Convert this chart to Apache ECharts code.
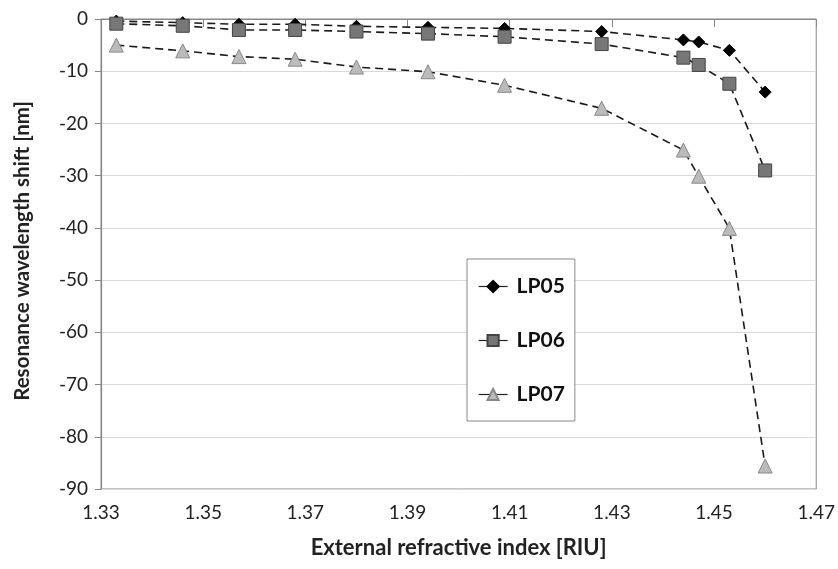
<!DOCTYPE html>
<html>
<head>
<meta charset="utf-8">
<script src="https://cdn.jsdelivr.net/npm/echarts@6/dist/echarts.min.js"></script>
<style>
  html, body { margin: 0; padding: 0; background: #fff; }
  #chart { width: 838px; height: 569px; }
</style>
</head>
<body>
<div id="chart"></div>
<script>
// refractive index of the outer medium
var riu = [1.333, 1.346, 1.357, 1.368, 1.380, 1.394, 1.409, 1.428, 1.444, 1.447, 1.453, 1.460];
// resonance shifts [nm]
var lp05 = [-0.4, -0.7, -1.0, -1.0, -1.4, -1.6, -1.8, -2.4, -4.0, -4.4, -6.0, -14.0];
var lp06 = [-0.9, -1.3, -2.1, -2.1, -2.4, -2.8, -3.4, -4.8, -7.4, -8.8, -12.4, -29.0];
var lp07 = [-5.0, -6.1, -7.2, -7.7, -9.2, -10.1, -12.7, -17.1, -25.1, -30.1, -40.1, -85.6];
var xTicks = [1.33, 1.35, 1.37, 1.39, 1.41, 1.43, 1.45, 1.47];

var font = 'Lato, "Noto Sans", sans-serif';

function pairs(ys) {
  return riu.map(function (x, i) { return [x, ys[i]]; });
}

function line(name, ys, symbol, size, fill, border) {
  return {
    name: name,
    type: 'line',
    data: pairs(ys),
    symbol: symbol,
    symbolSize: size,
    showSymbol: true,
    z: 3,
    lineStyle: { color: '#1a1a1a', width: 1.6, type: [8, 5] },
    itemStyle: { color: fill, borderColor: border, borderWidth: 1, opacity: 1 },
    emphasis: { disabled: true }
  };
}

var chart = echarts.init(document.getElementById('chart'));
chart.setOption({
  animation: false,
  backgroundColor: '#fff',
  textStyle: { fontFamily: font },
  grid: {
    left: 101, right: 20, top: 19, bottom: 80,
    show: true, borderColor: '#888', borderWidth: 1
  },
  legend: {
    left: 467, top: 259,
    orient: 'vertical',
    backgroundColor: '#fff',
    borderColor: '#888', borderWidth: 1,
    padding: [17, 10, 16, 11],
    itemGap: 33,
    itemWidth: 29, itemHeight: 14,
    lineStyle: { type: 'solid', width: 1.2, color: '#222' },
    textStyle: { fontFamily: font, fontWeight: 'bold', fontSize: 21, color: '#111', padding: [0, 0, 0, 4] },
    data: ['LP05', 'LP06', 'LP07']
  },
  xAxis: {
    type: 'value',
    min: 1.33, max: 1.47,
    name: 'External refractive index [RIU]',
    nameLocation: 'middle',
    nameGap: 48,
    nameTextStyle: { fontFamily: font, fontWeight: 'bold', fontSize: 22, color: '#222' },
    axisLine: { show: true, lineStyle: { color: '#888', width: 1.2 } },
    axisTick: { show: true, length: 8, customValues: xTicks, lineStyle: { color: '#888' } },
    axisLabel: {
      customValues: xTicks, fontSize: 19, color: '#222', margin: 14,
      formatter: function (v) { return v.toFixed(2); }
    },
    splitLine: { show: false }
  },
  yAxis: {
    type: 'value',
    min: -90, max: 0, interval: 10,
    name: 'Resonance wavelength shift [nm]',
    nameLocation: 'middle',
    nameGap: 68,
    nameTextStyle: { fontFamily: font, fontWeight: 'bold', fontSize: 20.5, color: '#222', padding: [0, 0, 0, 6] },
    axisLine: { show: true, lineStyle: { color: '#888', width: 1.2 } },
    axisTick: { show: true, length: 6, lineStyle: { color: '#888' } },
    axisLabel: { fontSize: 19, color: '#222', margin: 13 },
    splitLine: { show: true, lineStyle: { color: '#d9d9d9', width: 1 } }
  },
  series: [
    line('LP05', lp05, 'diamond', 12, '#000', '#000'),
    line('LP06', lp06, 'rect', 13, '#777', '#444'),
    line('LP07', lp07, 'triangle', 14, '#bbb', '#888')
  ]
});
</script>
</body>
</html>
